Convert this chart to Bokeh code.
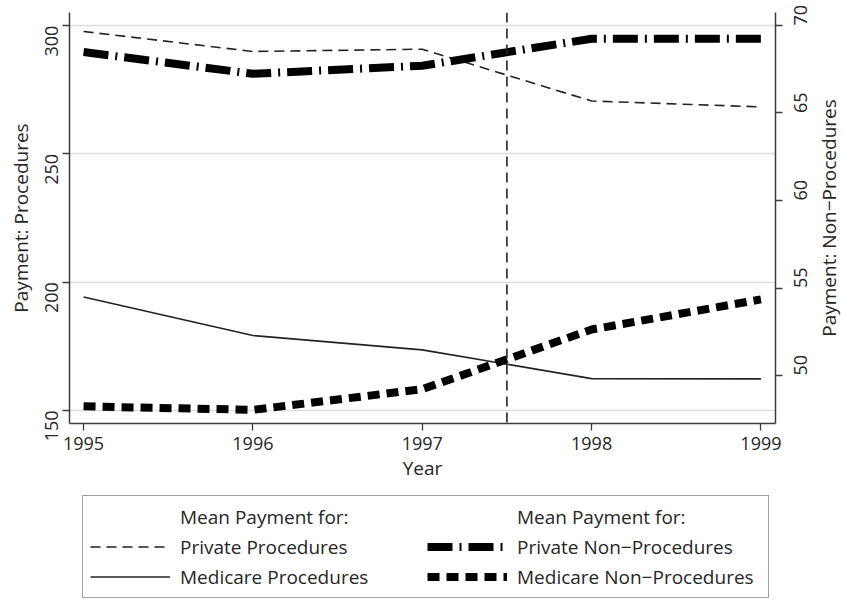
import math
from bokeh.plotting import figure
from bokeh.layouts import column, row
from bokeh.models import Range1d, LinearAxis, FixedTicker, Span, Legend, LegendItem
from bokeh.embed import file_html
from bokeh.resources import INLINE

# ---- data ----
years = [1995, 1996, 1997, 1998, 1999]
private_proc = [297.7, 289.9, 290.8, 270.6, 268.3]
medicare_proc = [194.2, 179.2, 173.6, 162.4, 162.3]
private_nonproc = [68.48, 67.24, 67.70, 69.24, 69.24]
medicare_nonproc = [48.24, 48.04, 49.22, 52.63, 54.35]
policy_year = 1997.5
x_ticks = [1995, 1996, 1997, 1998, 1999]
left_ticks = [150, 200, 250, 300]
right_ticks = [50, 55, 60, 65, 70]
legend_header = "Mean Payment for:"
series_labels = ["Private Procedures", "Medicare Procedures",
                 "Private Non\u2212Procedures", "Medicare Non\u2212Procedures"]
left_title = "Payment: Procedures"
right_title = "Payment: Non\u2212Procedures"
x_title = "Year"

FONT = "Open Sans"
TXT = "#262626"
AX = "#3c3c3c"

style_pp = dict(line_color="#222222", line_width=1.6, line_dash="10 6")
style_mp = dict(line_color="#222222", line_width=1.6)
style_pn = dict(line_color="black", line_width=8, line_dash="25 7 2 7")
style_mn = dict(line_color="black", line_width=8, line_dash="12 7")

TOP, BOTTOM = 12, 64
H_MAIN = 487

p = figure(width=816, height=H_MAIN,
           x_range=Range1d(1994.917, 1999.086),
           y_range=Range1d(144.9, 305.1),
           output_backend="svg", toolbar_location=None,
           min_border_left=69, min_border_right=32,
           min_border_top=TOP, min_border_bottom=BOTTOM)
p.extra_y_ranges = {"right": Range1d(47.26, 70.74)}
p.outline_line_color = None
p.background_fill_color = "white"
p.border_fill_color = "white"

p.xgrid.visible = False
p.ygrid.ticker = FixedTicker(ticks=left_ticks)
p.ygrid.grid_line_color = "#dddddd"
p.ygrid.grid_line_width = 1.5

def style_axis(ax):
    ax.axis_line_color = AX
    ax.axis_line_width = 1.5
    ax.major_tick_line_color = AX
    ax.major_tick_line_width = 1.3
    ax.major_tick_out = 7
    ax.major_tick_in = 0
    ax.minor_tick_line_color = None
    ax.major_label_text_font = FONT
    ax.major_label_text_font_size = "18px"
    ax.major_label_text_color = TXT
    ax.axis_label_text_font = FONT
    ax.axis_label_text_font_size = "19px"
    ax.axis_label_text_font_style = "normal"
    ax.axis_label_text_color = TXT

xa = p.xaxis[0]
xa.ticker = FixedTicker(ticks=x_ticks)
xa.axis_label = x_title
style_axis(xa)
xa.major_label_standoff = 6
xa.axis_label_standoff = 2

ya = p.yaxis[0]
ya.ticker = FixedTicker(ticks=left_ticks)
ya.axis_label = left_title
style_axis(ya)
ya.major_label_orientation = math.pi / 2
ya.major_label_standoff = 11
ya.axis_label_standoff = 2

ra = LinearAxis(y_range_name="right", ticker=FixedTicker(ticks=right_ticks))
style_axis(ra)
ra.major_label_orientation = math.pi / 2
ra.major_label_standoff = 18
p.add_layout(ra, "right")

r_pp = p.line(years, private_proc, **style_pp)
r_mp = p.line(years, medicare_proc, **style_mp)
r_pn = p.line(years, private_nonproc, y_range_name="right", **style_pn)
r_mn = p.line(years, medicare_nonproc, y_range_name="right", **style_mn)

p.add_layout(Span(location=policy_year, dimension="height", line_color="#222222",
                  line_width=1.6, line_dash="10 6"))

# ---- right-hand axis title (reads bottom-to-top, as in the reference) ----
rl = figure(width=25, height=H_MAIN, x_range=Range1d(0, 1), y_range=Range1d(0, 1),
            x_axis_type=None, y_axis_type=None,
            output_backend="svg", toolbar_location=None,
            min_border_left=0, min_border_right=0,
            min_border_top=TOP, min_border_bottom=BOTTOM)
rl.outline_line_color = None
rl.grid.visible = False
rl_ax = LinearAxis(ticker=FixedTicker(ticks=[]), axis_label=right_title)
style_axis(rl_ax)
rl_ax.axis_line_color = None
rl_ax.major_tick_out = 0
rl_ax.major_label_standoff = 0
rl_ax.axis_label_standoff = 0
rl.add_layout(rl_ax, "left")

# ---- legend panel (its sample lines lie outside this panel's ranges) ----
lg = figure(width=841, height=600 - H_MAIN, x_range=Range1d(0, 1), y_range=Range1d(0, 1),
            x_axis_type=None, y_axis_type=None,
            output_backend="svg", toolbar_location=None,
            min_border_left=0, min_border_right=0, min_border_top=0, min_border_bottom=0)
lg.outline_line_color = None
lg.grid.visible = False
g_blank = lg.line(years, private_proc, line_alpha=0)
g_pp = lg.line(years, private_proc, **style_pp)
g_mp = lg.line(years, medicare_proc, **style_mp)
g_pn = lg.line(years, private_nonproc, **style_pn)
g_mn = lg.line(years, medicare_nonproc, **style_mn)

legend = Legend(items=[
    LegendItem(label=legend_header, renderers=[g_blank]),
    LegendItem(label=series_labels[0], renderers=[g_pp]),
    LegendItem(label=series_labels[1], renderers=[g_mp]),
    LegendItem(label=legend_header, renderers=[g_blank]),
    LegendItem(label=series_labels[2], renderers=[g_pn]),
    LegendItem(label=series_labels[3], renderers=[g_mn]),
], orientation="vertical", ncols=2, location=(82, 2))
legend.label_text_font = FONT
legend.label_text_font_size = "19px"
legend.label_text_color = TXT
legend.glyph_width = 80
legend.glyph_height = 27
legend.label_height = 27
legend.label_width = 244
legend.label_standoff = 10
legend.spacing = 3
legend.padding = 7
legend.margin = 0
legend.border_line_color = "#444444"
legend.border_line_width = 1.5
legend.background_fill_color = "white"
legend.background_fill_alpha = 1
lg.add_layout(legend, "center")

layout = column(row(p, rl), lg)
open("out.html", "w").write(file_html(layout, INLINE))
